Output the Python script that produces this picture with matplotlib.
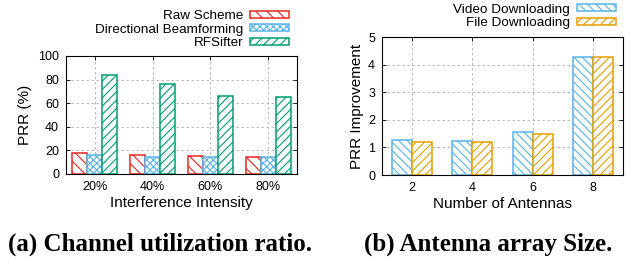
import numpy as np
import matplotlib.pyplot as plt

plt.rcParams['font.family'] = ['Liberation Sans', 'DejaVu Sans']
plt.rcParams['hatch.linewidth'] = 0.8

# (a) data
intensity = ['20%', '40%', '60%', '80%']
raw_scheme = [18, 16.5, 15.5, 14.5]
directional_bf = [16, 14.5, 14.5, 14.5]
rfsifter = [84, 76, 66, 65]

# (b) data
antennas = ['2', '4', '6', '8']
video_dl = [1.28, 1.22, 1.55, 4.27]
file_dl = [1.2, 1.2, 1.5, 4.27]

red = '#e8271f'
blue = '#56b4e9'
green = '#009e73'
orange = '#e69f00'

fig = plt.figure(figsize=(6.31, 2.63), dpi=100)
ax1 = fig.add_axes([66/631, 1 - 174/263, 231/631, 118/263])
ax2 = fig.add_axes([382/631, 1 - 175/263, 241/631, 138/263])


def style_axes(ax):
    ax.grid(True, linestyle=(0, (3, 3)), color='#b0b0b0', linewidth=0.6)
    ax.set_axisbelow(True)
    ax.tick_params(direction='in', top=True, right=True, labelsize=9, length=3, width=0.6, pad=5)
    for s in ax.spines.values():
        s.set_linewidth(0.8)


legend_kw = dict(bbox_transform=fig.transFigure, loc='lower right', markerfirst=False, frameon=False,
                 fontsize=9.7, handlelength=2.9, handleheight=0.45, labelspacing=0.1,
                 handletextpad=0.5, borderaxespad=0, borderpad=0)

# ---- (a) ----
x = np.arange(len(intensity))
w = 0.26
ax1.bar(x - w, raw_scheme, w, facecolor='white', edgecolor=red, hatch='\\\\\\', linewidth=1.1, label='Raw Scheme')
ax1.bar(x, directional_bf, w, facecolor='white', edgecolor=blue, hatch='xxxxx', linewidth=1.1, label='Directional Beamforming')
ax1.bar(x + w, rfsifter, w, facecolor='white', edgecolor=green, hatch='////', linewidth=1.1, label='RFSifter')
ax1.set_xlim(-0.5, 3.5)
ax1.set_ylim(0, 100)
ax1.set_yticks(range(0, 101, 20))
ax1.set_xticks(x)
ax1.set_xticklabels(intensity)
ax1.set_ylabel('PRR (%)', fontsize=11, labelpad=4)
ax1.set_xlabel('Interference Intensity', fontsize=11, labelpad=2)
style_axes(ax1)
ax1.legend(bbox_to_anchor=(289/631, 1 - 49/263), **legend_kw)

# ---- (b) ----
x = np.arange(len(antennas))
w = 0.33
ax2.bar(x - w/2, video_dl, w, facecolor='white', edgecolor=blue, hatch='\\\\\\\\', linewidth=1.1, label='Video Downloading')
ax2.bar(x + w/2, file_dl, w, facecolor='white', edgecolor=orange, hatch='////', linewidth=1.1, label='File Downloading')
ax2.set_xlim(-0.5, 3.5)
ax2.set_ylim(0, 5)
ax2.set_yticks(range(0, 6))
ax2.set_xticks(x)
ax2.set_xticklabels(antennas)
ax2.set_ylabel('PRR Improvement', fontsize=11, labelpad=3)
ax2.set_xlabel('Number of Antennas', fontsize=11, labelpad=2)
style_axes(ax2)
ax2.legend(bbox_to_anchor=(616/631, 1 - 29/263), **legend_kw)

# captions
fig.text(160/631, 1 - 244/263, '(a) Channel utilization ratio.', ha='center', va='center',
         fontsize=18, fontweight='bold', family=['Liberation Serif', 'DejaVu Serif'])
fig.text(488/631, 1 - 244/263, '(b) Antenna array Size.', ha='center', va='center',
         fontsize=18, fontweight='bold', family=['Liberation Serif', 'DejaVu Serif'])

fig.savefig('out.png', dpi=100)
